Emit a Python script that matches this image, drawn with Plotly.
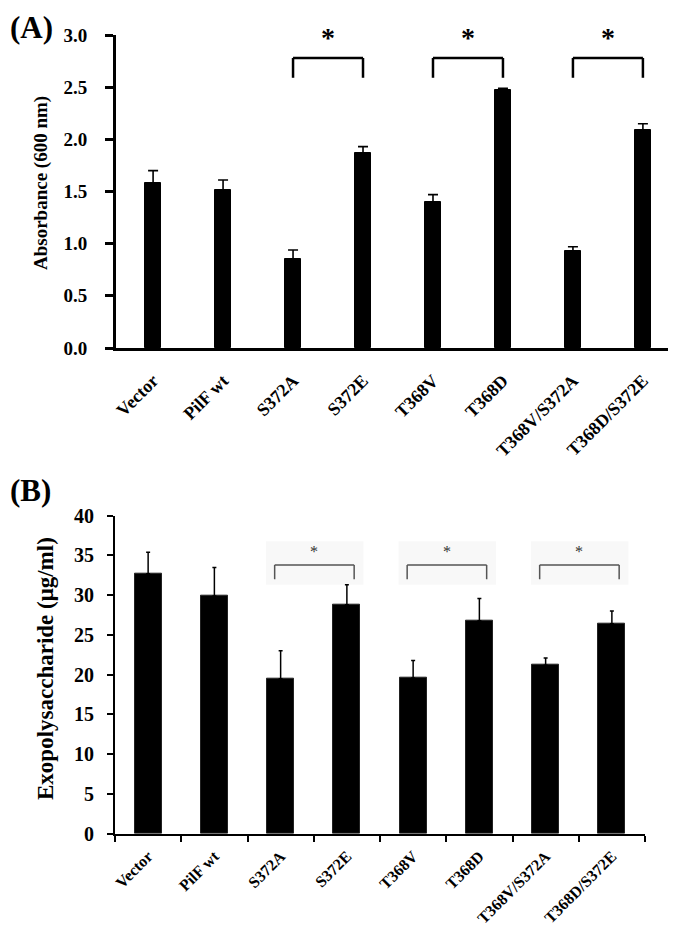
import plotly.graph_objects as go

categories = ["Vector", "PilF wt", "S372A", "S372E", "T368V", "T368D", "T368V/S372A", "T368D/S372E"]
absorbance = [1.58, 1.51, 0.85, 1.87, 1.40, 2.47, 0.93, 2.09]
absorbance_err = [0.12, 0.10, 0.09, 0.06, 0.07, 0.02, 0.04, 0.06]
eps = [32.7, 29.9, 19.5, 28.8, 19.6, 26.8, 21.2, 26.4]
eps_err = [2.7, 3.6, 3.5, 2.5, 2.2, 2.8, 0.9, 1.6]
pairs = [(2, 3), (4, 5), (6, 7)]
a_ticks = [0.0, 0.5, 1.0, 1.5, 2.0, 2.5, 3.0]
b_ticks = [0, 5, 10, 15, 20, 25, 30, 35, 40]

W, H = 676, 934
SERIF = "Liberation Serif"

def px_x(p):
    return p / W

def px_y(p):
    return 1 - p / H

fig = go.Figure()

fig.add_trace(go.Bar(
    x=categories, y=absorbance, xaxis="x", yaxis="y",
    marker=dict(color="black", line=dict(color="black", width=1)),
    width=0.24,
    error_y=dict(type="data", array=absorbance_err, arrayminus=[0] * len(categories),
                 symmetric=False, color="black", thickness=1.6, width=5),
    showlegend=False,
))
fig.add_trace(go.Bar(
    x=categories, y=eps, xaxis="x2", yaxis="y2",
    marker=dict(color="black", line=dict(color="#222", width=1)),
    width=0.41,
    error_y=dict(type="data", array=eps_err, arrayminus=[0] * len(categories),
                 symmetric=False, color="black", thickness=1.5, width=2),
    showlegend=False,
))

shapes = []
annotations = []

# Panel A brackets
for a, b in pairs:
    for (x0, y0, x1, y1) in [(a, 2.59, a, 2.78), (a, 2.78, b, 2.78), (b, 2.78, b, 2.59)]:
        shapes.append(dict(type="line", xref="x", yref="y", x0=x0, y0=y0, x1=x1, y1=y1,
                           line=dict(color="black", width=2.5)))
    annotations.append(dict(x=(a + b) / 2, y=2.81, xref="x", yref="y", text="*",
                            showarrow=False, yanchor="bottom",
                            font=dict(family=SERIF, size=28, color="black", weight="bold")))

# Panel B brackets
for a, b in pairs:
    shapes.append(dict(type="rect", xref="x2", yref="y2", x0=a - 0.22, x1=b + 0.25, y0=31.3, y1=36.8,
                       fillcolor="#f8f8f8", line=dict(width=0), layer="below"))
    l, r = a - 0.09, b + 0.11
    for (x0, y0, x1, y1) in [(l, 32.0, l, 33.8), (l, 33.8, r, 33.8), (r, 33.8, r, 32.0)]:
        shapes.append(dict(type="line", xref="x2", yref="y2", x0=x0, y0=y0, x1=x1, y1=y1,
                           line=dict(color="#555", width=1.5)))
    annotations.append(dict(x=(l + r) / 2, y=34.2, xref="x2", yref="y2", text="*",
                            showarrow=False, yanchor="bottom",
                            font=dict(family=SERIF, size=16, color="#333")))

annotations += [
    dict(x=0, y=1.0, xref="paper", yref="paper", xanchor="left", yanchor="top", text="(A)",
         showarrow=False, font=dict(family=SERIF, size=31, color="black", weight="bold")),
    dict(x=0, y=px_y(463), xref="paper", yref="paper", xanchor="left", yanchor="top", text="(B)",
         showarrow=False, font=dict(family=SERIF, size=31, color="black", weight="bold")),
    dict(x=px_x(33), y=px_y(175), xref="paper", yref="paper", xanchor="center", yanchor="middle",
         text="Absorbance (600 nm)", textangle=-90, showarrow=False,
         font=dict(family=SERIF, size=19, color="black", weight="bold")),
    dict(x=px_x(37), y=px_y(661), xref="paper", yref="paper", xanchor="center", yanchor="middle",
         text="Exopolysaccharide (μg/ml)", textangle=-90, showarrow=False,
         font=dict(family=SERIF, size=23, color="black", weight="bold")),
]

tickfont_a = dict(family=SERIF, size=19, color="black", weight="bold")
tickfont_b = dict(family=SERIF, size=20, color="black", weight="bold")
xfont_a = dict(family=SERIF, size=18, color="black", weight="bold")
xfont_b = dict(family=SERIF, size=16, color="black", weight="bold")

fig.update_layout(
    width=W, height=H,
    margin=dict(l=0, r=0, t=0, b=0),
    paper_bgcolor="white", plot_bgcolor="white",
    shapes=shapes, annotations=annotations,
    bargap=0,
    xaxis=dict(domain=[px_x(108), px_x(672)], anchor="y", type="category",
               range=[-0.53, 7.53], showline=True, linecolor="black", linewidth=3,
               ticks="", tickangle=-45, tickfont=xfont_a, showgrid=False, zeroline=False,
               ticklabelstandoff=12, automargin=False),
    yaxis=dict(domain=[px_y(340), px_y(27)], anchor="x", range=[0, 3.0],
               tickvals=a_ticks, ticktext=[f"{v:.1f}" for v in a_ticks],
               showline=True, linecolor="black", linewidth=3, ticks="outside",
               ticklen=8, tickwidth=2.5, tickcolor="black", tickfont=tickfont_a,
               showgrid=False, zeroline=False, ticklabelstandoff=14, automargin=False),
    xaxis2=dict(domain=[px_x(107), px_x(637)], anchor="y2", type="category",
                range=[-0.5, 7.5], showline=True, linecolor="black", linewidth=2,
                ticks="outside", tickson="boundaries", ticklen=6, tickwidth=2, tickcolor="black",
                tickangle=-45, tickfont=xfont_b, showgrid=False, zeroline=False,
                ticklabelstandoff=5, automargin=False),
    yaxis2=dict(domain=[px_y(825.7), px_y(507.7)], anchor="x2", range=[0, 40],
                tickvals=b_ticks, showline=True, linecolor="black", linewidth=2,
                ticks="outside", ticklen=6, tickwidth=2, tickcolor="black", tickfont=tickfont_b,
                showgrid=False, zeroline=False, ticklabelstandoff=9, automargin=False),
)

fig.write_html("out.html")
